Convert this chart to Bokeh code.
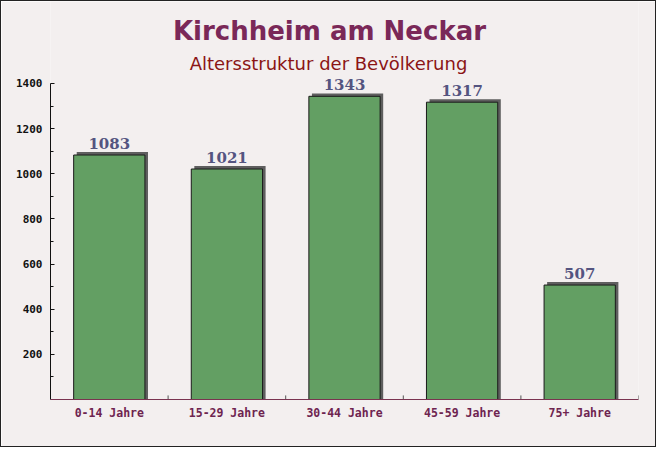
from bokeh.plotting import figure
from bokeh.models import ColumnDataSource, FactorRange, Range1d, FixedTicker, Label, LabelSet
from bokeh.transform import dodge
from bokeh.core.properties import value
from bokeh.embed import file_html
from bokeh.resources import INLINE

categories = ["0-14 Jahre", "15-29 Jahre", "30-44 Jahre", "45-59 Jahre", "75+ Jahre"]
values = [1083, 1021, 1343, 1317, 507]
y_ticks = [200, 400, 600, 800, 1000, 1200, 1400]
y_minor = [100, 300, 500, 700, 900, 1100, 1300]

title_text = "Kirchheim am Neckar"
subtitle_text = "Altersstruktur der Bevölkerung"

BG = "#f3efef"
SHADOW_UP = 13  # data units of the drop shadow (~3 px)

src = ColumnDataSource(dict(
    cats=categories,
    values=values,
    shadow_top=[v + SHADOW_UP for v in values],
    labels=[str(v) for v in values],
    zero=[0] * len(values),
    tick_top=[18] * len(values),
))

p = figure(
    width=656, height=447, title=None,
    x_range=FactorRange(*categories, range_padding=0),
    y_range=Range1d(0, 1763),
    output_backend="svg", toolbar_location=None,
    min_border_left=49, min_border_right=19,
    min_border_top=0, min_border_bottom=49,
)
p.styles = {"border": "1px solid #222222"}
p.background_fill_color = BG
p.border_fill_color = BG
p.outline_line_color = None
p.xgrid.grid_line_color = None
p.ygrid.grid_line_color = None

# shadow
p.vbar(x=dodge("cats", 0.026, range=p.x_range), top="shadow_top", width=0.606,
       source=src, fill_color="#5e5e5e", line_color=None)
# bars
p.vbar(x="cats", top="values", width=0.606, source=src,
       fill_color="#639f63", line_color="#1a1a1a", line_width=1)

# x ticks at category boundaries
p.segment(x0=dodge("cats", 0.5, range=p.x_range), y0="zero",
          x1=dodge("cats", 0.5, range=p.x_range), y1="tick_top",
          source=src, line_color="#555555", line_width=1)

p.add_layout(LabelSet(x="cats", y="values", text="labels", source=src,
                      text_align="center", text_baseline="alphabetic", y_offset=6,
                      text_font=value("DejaVu Serif"), text_font_style="bold",
                      text_font_size="15px", text_color="#545480"))

# y axis
ya = p.yaxis[0]
ya.bounds = (0, 1400)
ya.ticker = FixedTicker(ticks=y_ticks, minor_ticks=y_minor)
ya.axis_line_color = "#111111"
ya.major_tick_in = 4
ya.major_tick_out = 0
ya.minor_tick_in = 3
ya.minor_tick_out = 0
ya.major_tick_line_color = "#111111"
ya.minor_tick_line_color = "#111111"
ya.major_label_standoff = 8
ya.major_label_text_font = "DejaVu Sans Mono"
ya.major_label_text_font_style = "bold"
ya.major_label_text_font_size = "11px"
ya.major_label_text_color = "#111111"

# x axis
xa = p.xaxis[0]
xa.axis_line_color = "#7a3350"
xa.major_tick_line_color = None
xa.minor_tick_line_color = None
xa.major_tick_in = 0
xa.major_tick_out = 0
xa.minor_tick_in = 0
xa.minor_tick_out = 0
xa.major_label_standoff = 6
xa.major_label_text_font = "DejaVu Sans Mono"
xa.major_label_text_font_style = "bold"
xa.major_label_text_font_size = "11.5px"
xa.major_label_text_color = "#6e2450"

# titles
p.add_layout(Label(x=279, y=369, x_units="screen", y_units="screen", text=title_text,
                   text_align="center", text_baseline="middle",
                   text_font="DejaVu Sans", text_font_style="bold",
                   text_font_size="26px", text_color="#7a2858"))
p.add_layout(Label(x=278, y=336, x_units="screen", y_units="screen", text=subtitle_text,
                   text_align="center", text_baseline="middle",
                   text_font="DejaVu Sans", text_font_size="18px", text_color="#8b1515"))

open("out.html", "w").write(file_html(p, INLINE))
